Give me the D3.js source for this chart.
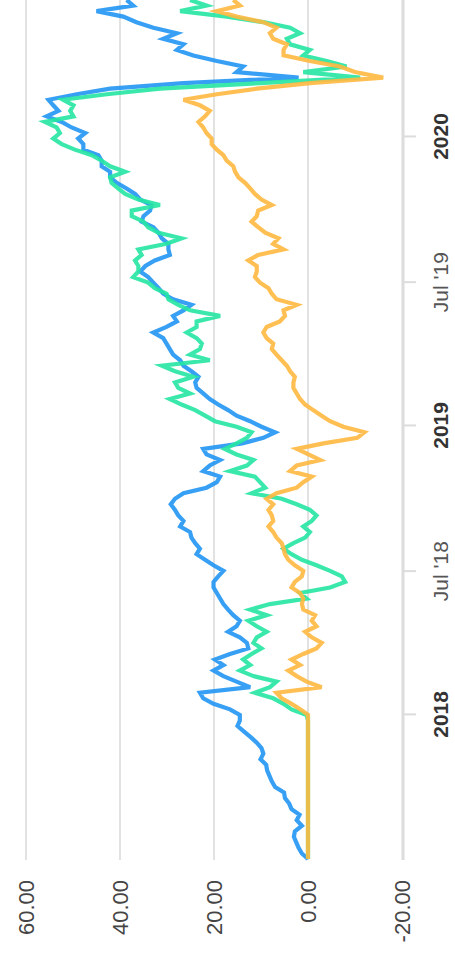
<!DOCTYPE html>
<html>
<head>
<meta charset="utf-8">
<script src="https://cdn.jsdelivr.net/npm/d3@7"></script>
<style>
  html, body { margin: 0; padding: 0; background: #fff; }
  svg { display: block; }
  text { font-family: "Liberation Sans", Arial, sans-serif; }
</style>
</head>
<body>
<div id="chart"></div>
<script>
// ---- data (weekly observations, Mondays) ----
const startDate = "2017-07-03";
const endDate = "2020-06-22";

const seriesBlue = [0,1.3,2.0,2.5,3.0,2.8,1.3,2.4,1.8,3.5,4.0,4.9,5.1,7.0,7.7,8.2,8.7,8.9,10.1,9.5,
  9.9,10.9,12.2,13.6,15.0,14.5,14.5,16.6,20.1,22.3,23.0,12.3,15.2,18.0,20.1,18.0,19.8,16.6,12.7,13.0,
  14.5,17.0,15.2,14.5,15.9,17.0,18.0,18.7,19.4,20.1,20.1,19.1,18.0,20.1,21.9,23.7,23.0,24.0,24.8,25.1,
  27.2,26.5,27.6,28.3,29.2,28.3,26.5,21.6,19.4,18.7,22.3,20.9,18.7,21.6,22.3,14.0,9.5,7.0,9.9,12.3,
  15.2,17.0,19.1,20.9,22.3,23.7,24.0,23.3,24.8,26.5,27.2,28.7,29.4,30.1,30.8,32.9,30.1,27.9,28.7,26.5,
  24.8,28.7,30.8,31.8,32.9,34.0,35.7,34.6,32.6,29.4,29.7,29.7,31.1,31.8,32.9,35.4,35.0,33.6,33.3,35.7,
  36.8,38.6,40.7,42.1,42.1,43.9,43.9,44.6,47.8,47.8,48.9,47.4,50.3,52.4,55.6,53.1,54.2,55.2,49.2,42.1,
  26.5,2.0,15.2,13.8,19.4,24.4,27.9,26.5,30.8,27.9,32.9,36.5,39.3,45.0,37.2,38.6];

const seriesGreen = [0,0,0,0,0,0,0,0,0,0,0,0,0,0,0,0,0,0,0,0,
  0,0,0,0,0,0,0.3,3.5,5.2,7.4,11.3,8.1,6.7,11.6,14.5,12.3,13.8,12.0,9.9,11.6,
  10.9,8.8,10.9,12.7,8.8,12.3,8.1,0.3,1.7,-4.7,-7.9,-7.2,-4.7,-1.8,1.3,3.5,5.2,3.1,0.6,-0.4,
  1.0,-0.8,-1.8,-0.4,2.4,5.6,12.0,9.1,10.2,11.3,16.6,13.0,11.6,15.2,17.7,15.2,13.0,12.0,15.2,19.8,
  21.9,24.0,26.9,29.4,25.1,27.6,28.3,24.4,28.3,31.1,20.9,25.1,23.0,22.6,23.7,25.8,23.7,23.7,18.7,25.1,
  27.6,29.7,30.1,32.6,34.0,37.2,36.1,36.1,36.8,35.4,36.1,30.1,26.9,31.8,34.0,35.0,37.5,37.5,31.5,36.1,
  38.9,40.4,41.8,42.1,38.9,42.1,43.9,46.0,49.6,52.4,54.2,52.8,53.5,56.0,49.9,50.6,49.9,52.1,42.8,31.5,
  10.2,-11.1,1.0,-8.2,-4.0,1.0,-0.4,3.8,4.5,1.7,3.8,9.5,17.3,27.2,21.6,25.1];

const seriesOrange = [0,0,0,0,0,0,0,0,0,0,0,0,0,0,0,0,0,0,0,0,
  0,0,0,0,0,0,0,1.6,3.5,5.6,6.7,-2.9,0.3,2.4,4.2,1.7,3.5,1.0,-1.8,-2.9,
  -0.8,0.6,-1.8,-0.8,-1.5,1.0,1.3,1.0,1.7,3.5,2.8,1.3,1.0,2.8,4.2,4.9,5.2,5.6,6.7,7.4,
  8.4,7.4,7.7,8.4,7.4,8.8,6.7,2.4,1.0,-0.8,3.8,2.4,-2.6,-0.1,2.4,-3.3,-10.5,-12.0,-7.5,-4.7,
  -2.9,-1.1,0.6,1.7,2.4,3.1,3.1,2.8,3.8,4.5,5.6,6.7,7.7,7.4,8.8,9.5,8.8,6.0,4.9,5.2,
  2.4,6.7,7.7,8.4,10.2,11.3,10.9,10.9,12.7,10.6,5.2,7.4,6.3,9.1,10.6,12.0,10.9,10.6,7.7,9.9,
  11.3,12.3,13.4,14.8,15.5,15.9,17.3,18.0,19.4,20.5,20.5,21.6,22.3,23.3,21.9,20.9,23.0,26.5,19.4,10.9,
  -0.4,-16.0,-10.0,-6.8,-0.4,5.2,5.2,4.5,7.4,8.1,6.7,9.5,15.2,19.4,14.5,15.9];

const xTickDates = ["2018-01-01", "2018-07-01", "2019-01-01", "2019-07-01", "2020-01-01"];
const xTickLabels = ["2018", "Jul '18", "2019", "Jul '19", "2020"];
const xTickBold = [true, false, true, false, true];
const yTicks = [-20, 0, 20, 40, 60];

const seriesColors = ["#2196f3", "#26e6a2", "#ffb83f"];

// ---- layout (chart drawn landscape, then rotated -90deg) ----
const VW = 455, VH = 954;       // viewport
const W = VH, H = VW;           // un-rotated chart size
const parse = d3.timeParse("%Y-%m-%d");
const dates = d3.timeMonday.range(parse(startDate), d3.timeDay.offset(parse(endDate), 1));

const x = d3.scaleTime().domain([parse(startDate), parse(endDate)]).range([95, W]);
const y = d3.scaleLinear().domain([-20, 60]).range([402, 26]);

const svg = d3.select("#chart").append("svg").attr("width", VW).attr("height", VH);
const g = svg.append("g").attr("transform", `translate(0,${VH}) rotate(-90)`);

// grid
g.append("g").selectAll("line").data(yTicks.filter(d => d !== -20)).join("line")
  .attr("x1", 94).attr("x2", W).attr("y1", d => y(d)).attr("y2", d => y(d))
  .attr("stroke", "#e2e2e2").attr("stroke-width", 2);

// x axis
const xAxis = d3.axisBottom(x)
  .tickValues(xTickDates.map(parse))
  .tickSize(13).tickPadding(17)
  .tickFormat((d, i) => xTickLabels[i]);
const gx = g.append("g").attr("transform", `translate(0,${y(-20) + 1})`).call(xAxis);
gx.select(".domain").attr("stroke", "#dcdcdc").attr("stroke-width", 3).attr("d", `M94,0H${W}`);
gx.selectAll(".tick line").attr("stroke", "#dcdcdc").attr("stroke-width", 2);
gx.selectAll(".tick text")
  .attr("font-size", 21)
  .attr("font-weight", (d, i) => xTickBold[i] ? "bold" : "normal")
  .attr("fill", (d, i) => xTickBold[i] ? "#333" : "#555");

// y axis
const yAxis = d3.axisLeft(y).tickValues(yTicks).tickSize(0).tickPadding(21)
  .tickFormat(d => d.toFixed(2));
const gy = g.append("g").attr("transform", `translate(95,0)`).call(yAxis);
gy.select(".domain").remove();
gy.selectAll(".tick text").attr("font-size", 22).attr("fill", "#444");

// lines
const line = d3.line().x((d, i) => x(dates[i])).y(d => y(d)).curve(d3.curveLinear);
const allSeries = [seriesBlue, seriesGreen, seriesOrange];
g.append("g").selectAll("path").data(allSeries).join("path")
  .attr("d", d => line(d))
  .attr("fill", "none")
  .attr("stroke", (d, i) => seriesColors[i])
  .attr("stroke-width", 4.2)
  .attr("stroke-linejoin", "miter")
  .attr("stroke-opacity", 0.9);
</script>
</body>
</html>
